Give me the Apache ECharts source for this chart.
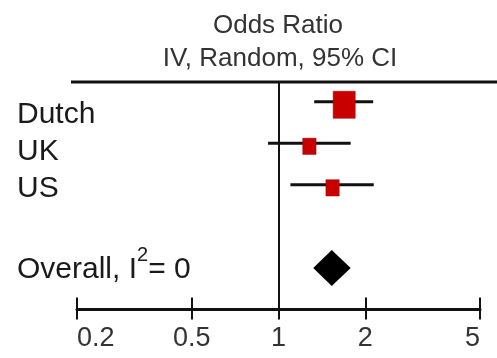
<!DOCTYPE html>
<html>
<head>
<meta charset="utf-8">
<script src="https://cdn.jsdelivr.net/npm/echarts@6/dist/echarts.min.js"></script>
<style>
  html, body { margin: 0; padding: 0; background: #fff; }
  #chart { width: 497px; height: 358px; }
</style>
</head>
<body>
<div id="chart"></div>
<script>
// ---- data ----
const titleLines = ['Odds Ratio', 'IV, Random, 95% CI'];
const studies = ['Dutch', 'UK', 'US'];
const studyOR = [1.69, 1.28, 1.54];
const studyLo = [1.33, 0.92, 1.10];
const studyHi = [2.13, 1.78, 2.14];
const studyWeight = [58, 21, 21];
const overallLabel = 'Overall';
const overallOR = 1.53;
const overallLo = 1.32;
const overallHi = 1.78;
const i2 = 0;
const xTicks = [0.2, 0.5, 1, 2, 5];

// ---- build ----
const FONT = "'Liberation Sans', Arial, sans-serif";
const nStudies = studies.length;
const studyRow = studies.map((s, i) => i + 1);
const overallRow = nStudies + 2;
const rowLabels = {};
studies.forEach((s, i) => { rowLabels[studyRow[i]] = '{r' + i + '|' + s + '}'; });
rowLabels[overallRow] = '{o|' + overallLabel + ', I}{s|2}{o|= ' + i2 + '}';

const whiskerData = studies.map((s, i) => [studyLo[i], studyHi[i], studyRow[i]]);
const boxData = studies.map((s, i) => [studyOR[i], studyRow[i], studyWeight[i]]);
const diamondData = [[overallLo, overallOR, overallHi, overallRow]];

const chart = echarts.init(document.getElementById('chart'), null, { renderer: 'canvas' });
chart.setOption({
  animation: false,
  backgroundColor: '#fff',
  title: [
    { text: titleLines[0], left: 278, top: 13, textAlign: 'center', padding: 0,
      textStyle: { fontFamily: FONT, fontSize: 26, fontWeight: 'normal', color: '#333' } },
    { text: titleLines[1], left: 280, top: 46, textAlign: 'center', padding: 0,
      textStyle: { fontFamily: FONT, fontSize: 26, fontWeight: 'normal', color: '#333' } }
  ],
  grid: { left: 77, right: 17, top: 81, bottom: 48.5, outerBoundsMode: 'none', containLabel: false },
  xAxis: [
    {
      type: 'log', logBase: 10, min: 0.2, max: 5, position: 'bottom',
      axisLine: { show: true, onZero: false, lineStyle: { color: '#111', width: 3 } },
      axisTick: { show: true, inside: false, length: 10, customValues: xTicks, lineStyle: { color: '#111', width: 2 } },
      axisLabel: {
        show: true, customValues: xTicks, margin: 16,
        fontFamily: FONT, fontSize: 27, color: '#333',
        alignMinLabel: 'left', alignMaxLabel: 'right',
        formatter: v => String(v)
      },
      splitLine: { show: false }, minorTick: { show: false }
    },
    {
      type: 'log', logBase: 10, min: 0.2, max: 5, position: 'bottom',
      axisLine: { show: false, onZero: false },
      axisTick: { show: true, inside: true, length: 12, customValues: xTicks, lineStyle: { color: '#111', width: 2 } },
      axisLabel: { show: false },
      splitLine: { show: false }
    }
  ],
  yAxis: {
    type: 'value', inverse: true, min: 0.5, max: 6,
    axisLine: { show: false }, axisTick: { show: false }, splitLine: { show: false },
    axisLabel: {
      show: true, customValues: studyRow.concat([overallRow]),
      align: 'left', margin: 60,
      formatter: v => rowLabels[v] || '',
      rich: {
        r0: { fontFamily: FONT, fontSize: 30, color: '#1a1a1a', padding: [26, 0, 0, 0] },
        r1: { fontFamily: FONT, fontSize: 30, color: '#1a1a1a', padding: [16, 0, 0, 0] },
        r2: { fontFamily: FONT, fontSize: 30, color: '#1a1a1a', padding: [8, 0, 0, 0] },
        o: { fontFamily: FONT, fontSize: 30, color: '#1a1a1a', padding: [4, 0, 0, 0] },
        s: { fontFamily: FONT, fontSize: 20, color: '#1a1a1a', padding: [0, 0, 24, 0] }
      }
    }
  },
  graphic: [
    { type: 'line', shape: { x1: 71, y1: 82, x2: 497, y2: 82 }, style: { stroke: '#111', lineWidth: 3 }, z: 10 }
  ],
  series: [
    {
      type: 'custom', xAxisIndex: 0, yAxisIndex: 0,
      data: whiskerData, z: 3,
      encode: { x: [0, 1], y: 2 },
      renderItem: (params, api) => {
        const p1 = api.coord([api.value(0), api.value(2)]);
        const p2 = api.coord([api.value(1), api.value(2)]);
        return { type: 'line', shape: { x1: p1[0], y1: p1[1], x2: p2[0], y2: p2[1] },
                 style: { stroke: '#111', lineWidth: 3 } };
      }
    },
    {
      type: 'scatter', xAxisIndex: 0, yAxisIndex: 0, z: 4,
      data: boxData, symbol: 'rect',
      symbolSize: v => [2.9 * Math.sqrt(v[2]), 3.55 * Math.sqrt(v[2])],
      symbolOffset: [0, 3],
      itemStyle: { color: '#c80000', borderColor: '#a00000', borderWidth: 0.5, opacity: 1 },
      markLine: {
        silent: true, symbol: 'none', animation: false,
        label: { show: false },
        lineStyle: { color: '#111', width: 2, type: 'solid' },
        data: [{ xAxis: 1 }]
      }
    },
    {
      type: 'custom', xAxisIndex: 0, yAxisIndex: 0, z: 4,
      data: diamondData,
      encode: { x: [0, 1, 2], y: 3 },
      renderItem: (params, api) => {
        const lo = api.coord([api.value(0), api.value(3)]);
        const mid = api.coord([api.value(1), api.value(3)]);
        const hi = api.coord([api.value(2), api.value(3)]);
        const h = 18;
        return { type: 'polygon',
                 shape: { points: [lo, [mid[0], mid[1] - h], hi, [mid[0], mid[1] + h]] },
                 style: { fill: '#000' } };
      }
    }
  ]
});
</script>
</body>
</html>
